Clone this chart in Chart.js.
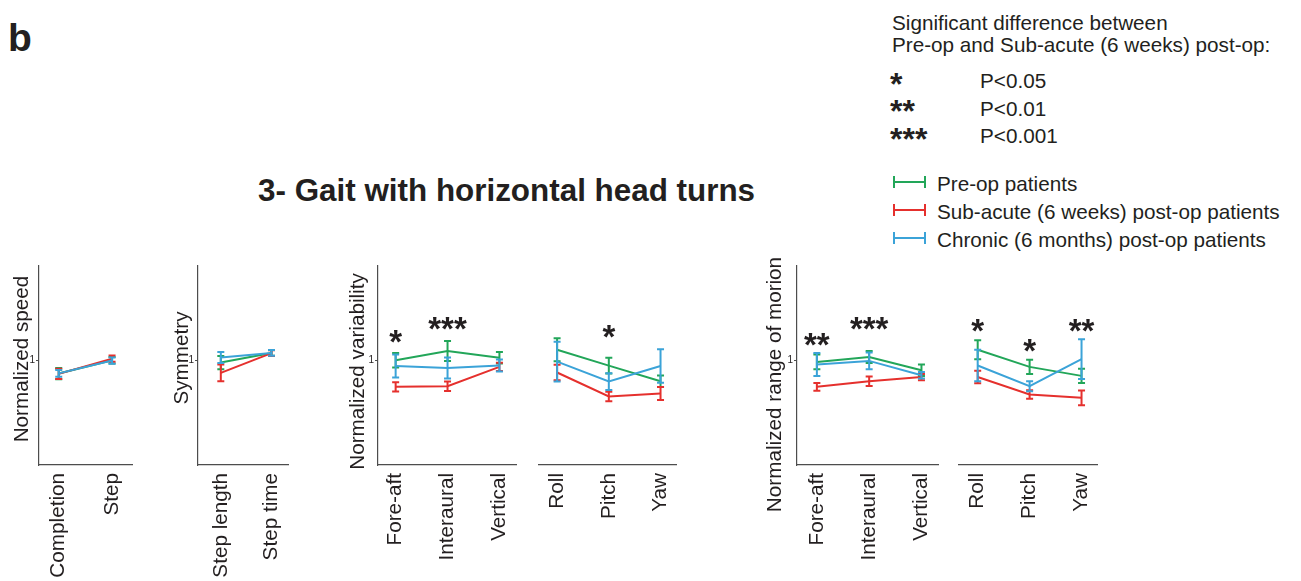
<!DOCTYPE html>
<html>
<head>
<meta charset="utf-8">
<script src="https://cdn.jsdelivr.net/npm/chart.js@4.4.1/dist/chart.umd.min.js"></script>
<style>
  body { margin: 0; width: 1301px; height: 581px; background: #fff; position: relative; overflow: hidden;
         font-family: "Liberation Sans", Arial, sans-serif; color: #231f20; }
  .abs { position: absolute; white-space: nowrap; }
  .txt { font-size: 20.7px; line-height: 24px; }
  .star { font-size: 32px; line-height: 32px; font-weight: bold; }
  .sym { position: absolute; width: 33px; height: 12px; box-sizing: border-box; }
  canvas { position: absolute; top: 250px; }
</style>
</head>
<body>
<div class="abs" style="left:8px;top:18px;font-size:39px;line-height:39px;font-weight:bold;">b</div>
<div class="abs" style="left:258px;top:174px;font-size:31.4px;line-height:34px;font-weight:bold;">3- Gait with horizontal head turns</div>

<div class="abs txt" style="left:892px;top:11px;">Significant difference between</div>
<div class="abs txt" style="left:892px;top:33.4px;">Pre-op and Sub-acute (6 weeks) post-op:</div>
<div id="sigKey"></div>
<div id="groupKey"></div>

<canvas id="pSpeed"></canvas>
<canvas id="pSym"></canvas>
<canvas id="pVar"></canvas>
<canvas id="pAngVar"></canvas>
<canvas id="pRom"></canvas>
<canvas id="pAngRom"></canvas>

<script>
// groups
const groupNames = ["Pre-op patients", "Sub-acute (6 weeks) post-op patients", "Chronic (6 months) post-op patients"];
const groupColors = ["#22a659", "#e5302d", "#3ba3d8"];

// significance key
const sigMarks = ["*", "**", "***"];
const sigText = ["P<0.05", "P<0.01", "P<0.001"];

// panel 1: speed
const speedLabels = ["Completion", "Step"];
const speedPre = [0.873, 1.0];
const speedPreErr = [0.054, 0.03];
const speedSub = [0.87, 1.016];
const speedSubErr = [0.05, 0.03];
const speedChr = [0.875, 0.997];
const speedChrErr = [0.032, 0.03];

// panel 2: symmetry
const symLabels = ["Step length", "Step time"];
const symPre = [0.978, 1.07];
const symPreErr = [0.063, 0.027];
const symSub = [0.879, 1.068];
const symSubErr = [0.08, 0.027];
const symChr = [1.027, 1.07];
const symChrErr = [0.052, 0.027];

// panel 3: linear variability
const linLabels = ["Fore-aft", "Interaural", "Vertical"];
const varPre = [1.0, 1.089, 1.025];
const varPreErr = [0.07, 0.095, 0.055];
const varSub = [0.746, 0.752, 0.937];
const varSubErr = [0.045, 0.045, 0.04];
const varChr = [0.946, 0.927, 0.95];
const varChrErr = [0.11, 0.1, 0.057];
const varStars = ["*", "***", ""];
const varStarLevel = [1.229, 1.352, null];

// panel 4: angular variability
const angLabels = ["Roll", "Pitch", "Yaw"];
const angVarPre = [1.10, 0.949, 0.80];
const angVarPreErr = [0.11, 0.076, 0.055];
const angVarSub = [0.883, 0.654, 0.683];
const angVarSubErr = [0.075, 0.045, 0.062];
const angVarChr = [0.987, 0.797, 0.946];
const angVarChrErr = [0.19, 0.08, 0.16];
const angVarStars = ["", "*", ""];
const angVarStarLevel = [null, 1.276, null];

// panel 5: linear range of motion
const romPre = [0.984, 1.032, 0.905];
const romPreErr = [0.07, 0.057, 0.055];
const romSub = [0.746, 0.80, 0.84];
const romSubErr = [0.037, 0.045, 0.03];
const romChr = [0.959, 0.994, 0.857];
const romChrErr = [0.11, 0.08, 0.03];
const romStars = ["**", "***", ""];
const romStarLevel = [1.2, 1.352, null];

// panel 6: angular range of motion
const angRomPre = [1.10, 0.937, 0.851];
const angRomPreErr = [0.09, 0.067, 0.068];
const angRomSub = [0.84, 0.673, 0.641];
const angRomSubErr = [0.06, 0.04, 0.07];
const angRomChr = [0.95, 0.752, 1.01];
const angRomChrErr = [0.15, 0.048, 0.19];
const angRomStars = ["*", "*", "**"];
const angRomStarLevel = [1.333, 1.143, 1.333];

const yTicks = [1];
const AXIS = "#4d4d4d";
const INK = "#231f20";
const FONT = "'Liberation Sans', Arial, sans-serif";
const CANVAS_TOP = 250;

// html keys
const sigKey = document.getElementById("sigKey");
sigMarks.forEach((m, i) => {
  const mid = 80.8 + i * 27.5;
  sigKey.insertAdjacentHTML("beforeend",
    `<div class="abs star" style="left:890px;top:${mid - 13}px;">${m}</div>` +
    `<div class="abs txt" style="left:980px;top:${mid - 11.4}px;">${sigText[i]}</div>`);
});
const groupKey = document.getElementById("groupKey");
groupNames.forEach((name, i) => {
  const c = groupColors[i];
  const mid = 183.7 + i * 27.9;
  groupKey.insertAdjacentHTML("beforeend",
    `<div class="sym" style="left:893px;top:${mid - 7.5}px;border-left:2px solid ${c};border-right:2px solid ${c};` +
    `background:linear-gradient(${c},${c}) center/100% 2px no-repeat;"></div>` +
    `<div class="abs txt" style="left:937px;top:${mid - 11.4}px;">${name}</div>`);
});

const errorBars = {
  id: "errorBars",
  afterDatasetDraw(chart, args) {
    const ds = chart.data.datasets[args.index];
    const { ctx, scales: { x, y } } = chart;
    ctx.save();
    ctx.strokeStyle = ds.borderColor;
    ctx.lineWidth = 2;
    ds.data.forEach((pt, i) => {
      const e = ds.errors[i];
      const px = x.getPixelForValue(pt.x);
      const top = y.getPixelForValue(pt.y + e);
      const bot = y.getPixelForValue(pt.y - e);
      ctx.beginPath();
      ctx.moveTo(px, top); ctx.lineTo(px, bot);
      ctx.moveTo(px - 3.5, top); ctx.lineTo(px + 3.5, top);
      ctx.moveTo(px - 3.5, bot); ctx.lineTo(px + 3.5, bot);
      ctx.stroke();
    });
    ctx.restore();
  },
};

const sigStars = {
  id: "sigStars",
  afterDraw(chart, args, opts) {
    if (!opts.marks) return;
    const { ctx, scales: { x, y } } = chart;
    ctx.save();
    ctx.fillStyle = INK;
    ctx.font = `bold 33px ${FONT}`;
    ctx.textAlign = "center";
    ctx.textBaseline = "alphabetic";
    opts.marks.forEach((m, i) => {
      if (!m) return;
      ctx.fillText(m, x.getPixelForValue(i), y.getPixelForValue(opts.levels[i]) + 17);
    });
    ctx.restore();
  },
};

// y-axis title, placed next to the axis
const sideTitle = {
  id: "sideTitle",
  afterDraw(chart, args, opts) {
    if (!opts.text) return;
    const { ctx } = chart;
    ctx.save();
    ctx.translate(opts.x, opts.y);
    ctx.rotate(-Math.PI / 2);
    ctx.fillStyle = INK;
    ctx.font = `20.7px ${FONT}`;
    ctx.textAlign = "center";
    ctx.textBaseline = "middle";
    ctx.fillText(opts.text, 0, 0);
    ctx.restore();
  },
};

function makePanel(id, cfg) {
  const canvas = document.getElementById(id);
  const height = 331;
  const padRight = 14;
  canvas.style.left = cfg.left + "px";
  canvas.width = cfg.right + padRight - cfg.left;
  canvas.height = height;

  const series = [cfg.pre, cfg.sub, cfg.chr];
  const errs = [cfg.preErr, cfg.subErr, cfg.chrErr];
  const datasets = series.map((vals, g) => ({
    label: groupNames[g],
    data: vals.map((v, i) => ({ x: i, y: v })),
    errors: errs[g],
    borderColor: groupColors[g],
    backgroundColor: groupColors[g],
    borderWidth: 2,
    pointRadius: 0,
    tension: 0,
    order: 2 - g,
  }));

  const showY = !!cfg.yTitle;
  new Chart(canvas, {
    type: "line",
    data: { datasets },
    options: {
      responsive: false,
      animation: false,
      events: [],
      layout: { padding: { top: 16, right: padRight, bottom: 0, left: showY ? 0 : cfg.axisX - cfg.left } },
      plugins: {
        legend: { display: false },
        tooltip: { enabled: false },
        sigStars: { marks: cfg.stars, levels: cfg.starLevels },
        sideTitle: showY ? { text: cfg.yTitle, x: cfg.titleX - cfg.left, y: cfg.titleY - CANVAS_TOP } : {},
      },
      scales: {
        x: {
          type: "linear",
          min: cfg.xMin,
          max: cfg.xMax,
          afterBuildTicks(scale) { scale.ticks = cfg.labels.map((_, i) => ({ value: i })); },
          afterFit(scale) { scale.height = 116; },
          ticks: {
            autoSkip: false,
            minRotation: 90,
            maxRotation: 90,
            padding: 8,
            color: INK,
            font: { family: FONT, size: 20.7 },
            callback: (v) => cfg.labels[v],
          },
          grid: { display: true, drawOnChartArea: false, drawTicks: false, color: AXIS },
          border: { display: true, color: AXIS, width: 1.2 },
        },
        y: {
          display: showY,
          min: 0,
          max: 1.9,
          afterBuildTicks(scale) { scale.ticks = yTicks.map((v) => ({ value: v })); },
          afterFit(scale) { if (showY) scale.width = cfg.axisX - cfg.left; },
          ticks: { padding: 1, color: INK, font: { family: FONT, size: 10 } },
          grid: { display: true, drawOnChartArea: false, drawTicks: true, tickLength: 3, color: AXIS, lineWidth: 1 },
          border: { display: true, color: AXIS, width: 1.2 },
        },
      },
    },
    plugins: [errorBars, sigStars, sideTitle],
  });
}

makePanel("pSpeed", {
  left: 0, axisX: 39, right: 134, titleX: 22, titleY: 359, xMin: -0.37, xMax: 1.39,
  yTitle: "Normalized speed", labels: speedLabels,
  pre: speedPre, preErr: speedPreErr, sub: speedSub, subErr: speedSubErr, chr: speedChr, chrErr: speedChrErr,
});
makePanel("pSym", {
  left: 150, axisX: 198, right: 293, titleX: 182, titleY: 358, xMin: -0.45, xMax: 1.34,
  yTitle: "Symmetry", labels: symLabels,
  pre: symPre, preErr: symPreErr, sub: symSub, subErr: symSubErr, chr: symChr, chrErr: symChrErr,
});
makePanel("pVar", {
  left: 330, axisX: 378, right: 520, titleX: 358, titleY: 371.5, xMin: -0.34, xMax: 2.33,
  yTitle: "Normalized variability", labels: linLabels,
  pre: varPre, preErr: varPreErr, sub: varSub, subErr: varSubErr, chr: varChr, chrErr: varChrErr,
  stars: varStars, starLevels: varStarLevel,
});
makePanel("pAngVar", {
  left: 530, axisX: 539, right: 681, xMin: -0.35, xMax: 2.31,
  labels: angLabels,
  pre: angVarPre, preErr: angVarPreErr, sub: angVarSub, subErr: angVarSubErr, chr: angVarChr, chrErr: angVarChrErr,
  stars: angVarStars, starLevels: angVarStarLevel,
});
makePanel("pRom", {
  left: 750, axisX: 797, right: 942, titleX: 775, titleY: 384.5, xMin: -0.38, xMax: 2.33,
  yTitle: "Normalized range of morion", labels: linLabels,
  pre: romPre, preErr: romPreErr, sub: romSub, subErr: romSubErr, chr: romChr, chrErr: romChrErr,
  stars: romStars, starLevels: romStarLevel,
});
makePanel("pAngRom", {
  left: 950, axisX: 959, right: 1102, xMin: -0.36, xMax: 2.31,
  labels: angLabels,
  pre: angRomPre, preErr: angRomPreErr, sub: angRomSub, subErr: angRomSubErr, chr: angRomChr, chrErr: angRomChrErr,
  stars: angRomStars, starLevels: angRomStarLevel,
});
</script>
</body>
</html>
